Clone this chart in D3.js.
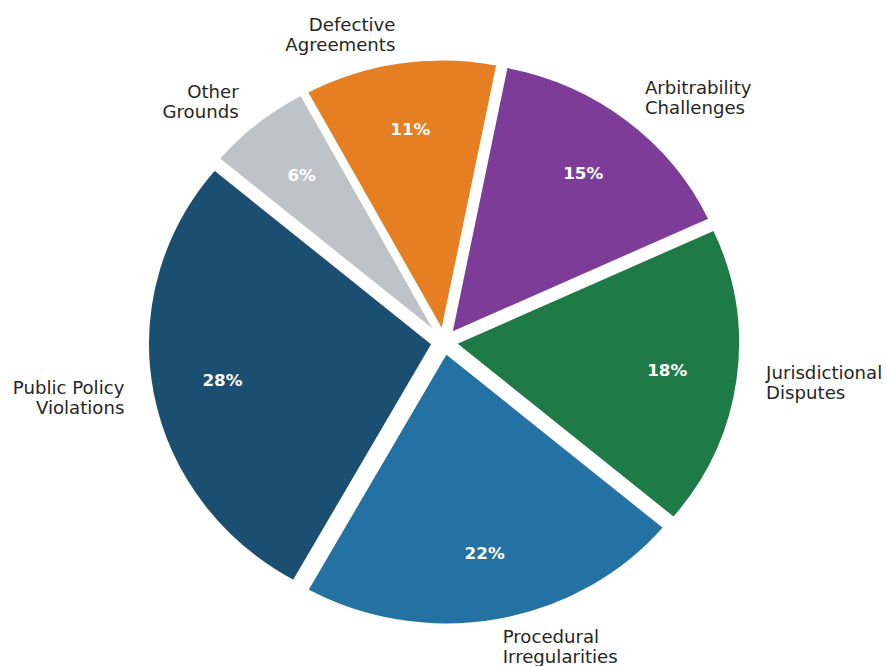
<!DOCTYPE html>
<html>
<head>
<meta charset="utf-8">
<script src="https://cdn.jsdelivr.net/npm/d3@7"></script>
<style>
  body { margin: 0; background: #fff; }
  svg text { font-family: "DejaVu Sans", sans-serif; }
</style>
</head>
<body>
<div id="chart"></div>
<script>
// grounds for setting aside awards, share in %
var categories = ["Public Policy\nViolations", "Procedural\nIrregularities", "Jurisdictional\nDisputes",
                  "Arbitrability\nChallenges", "Defective\nAgreements", "Other\nGrounds"];
var values = [28, 22, 18, 15, 11, 6];
var colors = ["#1b4f72", "#2471a3", "#1e7b48", "#7d3c98", "#e67e22", "#bdc3c7"];

function drawPie() {
    var width = 887,
        height = 666,
        radius = 272,
        explode = 0.04,
        cx = 444,
        cy = 342;

    var svg = d3.select("#chart").append("svg")
        .attr("width", width)
        .attr("height", height);

    // picture is slightly wider than tall
    var g = svg.append("g")
        .attr("transform", `translate(${cx},${cy}) scale(1.048,1)`);

    var deg = Math.PI / 180;
    // start at 140deg (matplotlib style), going counter-clockwise
    var pie = d3.pie().sort(null)
        .startAngle(-50 * deg)
        .endAngle(-410 * deg);

    var arc = d3.arc().innerRadius(0).outerRadius(radius);

    var slices = pie(values).map(function(d, i) {
        var mid = (d.startAngle + d.endAngle) / 2;
        return {arc: d, i: i, mid: mid,
                dx: Math.sin(mid) * explode * radius,
                dy: -Math.cos(mid) * explode * radius};
    });

    var slice = g.selectAll("g.slice")
        .data(slices)
        .enter()
        .append("g")
        .attr("class", "slice")
        .attr("transform", d => `translate(${d.dx},${d.dy})`);

    slice.append("path")
        .attr("d", d => arc(d.arc))
        .attr("fill", d => colors[d.i])
        .attr("stroke", "#fff")
        .attr("stroke-width", 2.5)
        .attr("stroke-linejoin", "round");

    // percentages
    slice.append("text")
        .attr("x", d => Math.sin(d.mid) * radius * 0.75)
        .attr("y", d => -Math.cos(d.mid) * radius * 0.75)
        .attr("text-anchor", "middle")
        .attr("dominant-baseline", "central")
        .attr("fill", "#fff")
        .attr("font-weight", "bold")
        .attr("font-size", "16px")
        .text(d => values[d.i] + "%");

    // category labels
    var lab = slice.append("text")
        .attr("font-size", "17.3px")
        .attr("fill", "#262626")
        .attr("text-anchor", d => Math.sin(d.mid) < 0 ? "end" : "start");

    lab.each(function(d) {
        var x = Math.sin(d.mid) * radius * 1.1,
            y = -Math.cos(d.mid) * radius * 1.1;
        var lines = categories[d.i].split("\n");
        d3.select(this).selectAll("tspan")
            .data(lines)
            .enter()
            .append("tspan")
            .attr("x", x)
            .attr("y", (t, k) => y + (k - (lines.length - 1) / 2) * 20 + 6)
            .text(t => t);
    });
}

window.onload = drawPie;
</script>
</body>
</html>
